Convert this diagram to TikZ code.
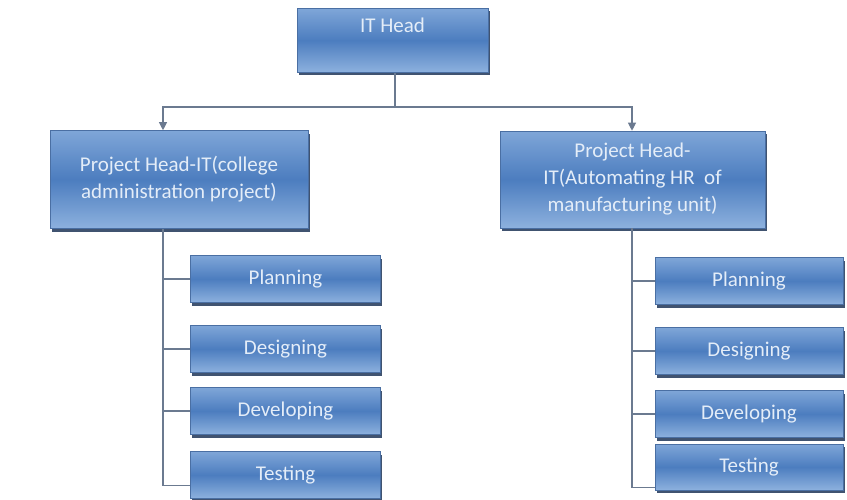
\documentclass[tikz,border=0pt]{standalone}
\usepackage{fontspec}
\setmainfont{Carlito}
\usetikzlibrary{shadows,calc,arrows.meta}

\definecolor{boxtop}{HTML}{7FA6D8}
\definecolor{boxmid}{HTML}{4C7DBF}
\definecolor{boxbot}{HTML}{8DB1DE}
\definecolor{boxedge}{HTML}{4A6FA3}
\definecolor{boxshade}{HTML}{1F3558}
\definecolor{boxtext}{HTML}{E4EDF8}
\definecolor{wire}{HTML}{6B7A90}

\tikzset{
  orgbox/.style={rectangle, draw=boxedge, line width=0.6pt,
    top color=boxtop, bottom color=boxbot, middle color=boxmid,
    text=boxtext, align=center, inner sep=2pt,
    font=\fontsize{21}{27}\selectfont,
    drop shadow={shadow xshift=1.5pt, shadow yshift=-3pt,
      fill=boxshade, opacity=0.85}},
  taskbox/.style={orgbox, minimum width=190pt, minimum height=47pt},
  wireline/.style={draw=wire, line width=1.1pt},
  wirearrow/.style={wireline, -{Triangle[length=8pt,width=8pt]}}
}

\begin{document}
\begin{tikzpicture}[x=1pt,y=-1pt]
  \useasboundingbox[fill=white] (0,0) rectangle (847,499);

  % top level
  \node[orgbox, minimum width=191pt, minimum height=64pt, text depth=30pt, anchor=north]
    (ithead) at (392.5,8) {IT Head};

  % project heads
  \node[orgbox, minimum width=258pt, minimum height=98pt] (projL) at (179,179.5)
    {Project Head-IT(college\\administration project)};
  \node[orgbox, minimum width=265pt, minimum height=97pt] (projR) at (632.5,179.5)
    {Project Head-\\IT(Automating HR~ of\\manufacturing unit)};

  % tasks of the left project
  \node[taskbox] (planL) at (285.5,279) {Planning};
  \node[taskbox] (desL)  at (285.5,349) {Designing};
  \node[taskbox] (devL)  at (285.5,411) {Developing};
  \node[taskbox] (testL) at (285.5,475) {Testing};

  % tasks of the right project
  \node[taskbox, minimum width=188pt] (planR) at (749,281) {Planning};
  \node[taskbox, minimum width=188pt] (desR)  at (749,351) {Designing};
  \node[taskbox, minimum width=188pt] (devR)  at (749,414) {Developing};
  \node[taskbox, minimum width=188pt, minimum height=46pt] (testR) at (749,467) {Testing};

  % connector helpers
  \coordinate (bus) at (395,107);
  \coordinate (spineL) at (163,0);
  \coordinate (spineR) at (632,0);

  % head to project heads
  \draw[wireline] (ithead.south -| bus) -- (bus);
  \draw[wirearrow] (bus) -| (projL.north -| spineL);
  \draw[wirearrow] (bus) -| (projR.north -| spineR);

  % left task tree
  \draw[wireline] (projL.south -| spineL) |- ($(testL.south west)+(0,-13)$);
  \draw[wireline] (planL.west -| spineL) -- (planL.west);
  \draw[wireline] (desL.west -| spineL) -- (desL.west);
  \draw[wireline] (devL.west -| spineL) -- (devL.west);

  % right task tree
  \draw[wireline] (projR.south -| spineR) |- ($(testR.south west)+(0,-3)$);
  \draw[wireline] (planR.west -| spineR) -- (planR.west);
  \draw[wireline] (desR.west -| spineR) -- (desR.west);
  \draw[wireline] (devR.west -| spineR) -- (devR.west);
\end{tikzpicture}
\end{document}
